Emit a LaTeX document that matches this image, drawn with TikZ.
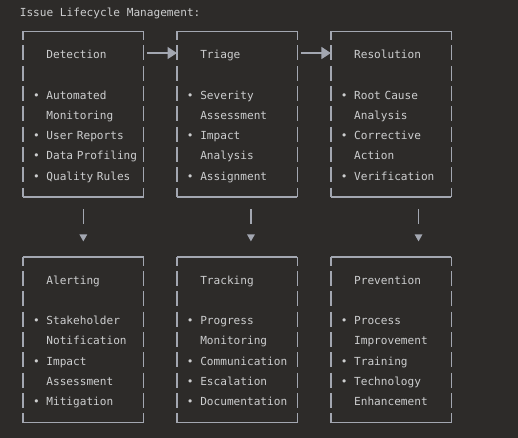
\documentclass[tikz,border=0pt]{standalone}
\usepackage{fontspec}
\setmonofont{DejaVu Sans Mono}
\usetikzlibrary{positioning, arrows.meta}
\definecolor{bg}{HTML}{2D2B29}
\definecolor{ink}{HTML}{CDCECF}
\definecolor{rule}{HTML}{A3A7B1}
% two monospace cells: a bullet and its space, or just blank
\newcommand{\bul}{\makebox[10.03pt][l]{•}}
\newcommand{\pad}{\hspace*{10.03pt}}

\begin{document}
\begin{tikzpicture}[node distance={115.4pt}, font=\ttfamily\fontsize{8.33}{15.2}\selectfont, text=ink]
    \tikzstyle{box} = [minimum width=90pt, minimum height=123.75pt, text width=75.4pt, inner xsep=7.3pt, inner ysep=0pt, text height=12.4pt, text depth=95.8pt, align=left]
    \tikzstyle{edge} = [rule, line width=1.1pt]
    \tikzstyle{side} = [rule, line width=1.1pt, dash pattern=on 11.25pt off 3.975pt, dash phase=4.7pt]
    \tikzstyle{next} = [rule, line width=0.8pt, -{Triangle[length=7pt, width=9pt]}, shorten <=2.5pt]
    \tikzstyle{down} = [rule, line width=1.1pt, -{Triangle[length=5.2pt, width=5.5pt]}, dash pattern=on 11.25pt off 20pt, shorten <=9.2pt, shorten >=11.7pt]

    % Background and page size
    \fill[bg] (0,0) rectangle (388.5pt,-328.5pt);
    \useasboundingbox (0,0) rectangle (388.5pt,-328.5pt);

    \node[anchor=west, inner sep=0pt] (title) at (14.7pt,-9.75pt) {Issue Lifecycle Management:};

    % Top row
    \node[box] (det) at (62.5pt,-85.65pt) {\pad Detection\\ \mbox{}\\ \bul Automated\\ \pad Monitoring\\ \bul User~Reports\\ \bul Data~Profiling\\ \bul Quality~Rules};
    \node[box] (tri) [right of=det] {\pad Triage\\ \mbox{}\\ \bul Severity\\ \pad Assessment\\ \bul Impact\\ \pad Analysis\\ \bul Assignment};
    \node[box] (res) [right of=tri] {\pad Resolution\\ \mbox{}\\ \bul Root~Cause\\ \pad Analysis\\ \bul Corrective\\ \pad Action\\ \bul Verification};

    % Bottom row
    \node[box] (ale) [below of=det, yshift=-53.8pt] {\pad Alerting\\ \mbox{}\\ \bul Stakeholder\\ \pad Notification\\ \bul Impact\\ \pad Assessment\\ \bul Mitigation};
    \node[box] (tra) [right of=ale] {\pad Tracking\\ \mbox{}\\ \bul Progress\\ \pad Monitoring\\ \bul Communication\\ \bul Escalation\\ \bul Documentation};
    \node[box] (pre) [right of=tra] {\pad Prevention\\ \mbox{}\\ \bul Process\\ \pad Improvement\\ \bul Training\\ \bul Technology\\ \pad Enhancement};

    % Frames: solid top and bottom, broken sides
    \foreach \b in {det,tri,res,ale,tra,pre} {
        \draw[edge] (\b.north west) -- (\b.north east);
        \draw[edge] (\b.south west) -- (\b.south east);
        \draw[side] (\b.north west) -- (\b.south west);
        \draw[side] (\b.north east) -- (\b.south east);
    }

    \draw[next] ([yshift=-16.2pt]det.north east) -- ([yshift=-16.2pt]tri.north west);
    \draw[next] ([yshift=-16.2pt]tri.north east) -- ([yshift=-16.2pt]res.north west);
    \draw[down] (det.south) -- (ale.north);
    \draw[down] ([xshift=10.3pt]tri.south) -- ([xshift=10.3pt]tra.north);
    \draw[down] ([xshift=20.6pt]res.south) -- ([xshift=20.6pt]pre.north);
\end{tikzpicture}
\end{document}
